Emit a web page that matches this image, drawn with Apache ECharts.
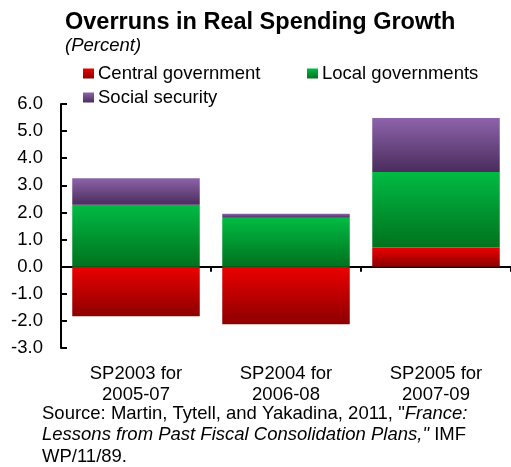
<!DOCTYPE html>
<html>
<head>
<meta charset="utf-8">
<script src="https://cdn.jsdelivr.net/npm/echarts@6/dist/echarts.min.js"></script>
<style>
  html, body { margin: 0; padding: 0; background: #fff; }
  #chart { width: 511px; height: 467px; }
</style>
</head>
<body>
<div id="chart"></div>
<script>
// Stability programme vintages and their overruns, percentage points
var categories = ['SP2003 for\n2005-07', 'SP2004 for\n2006-08', 'SP2005 for\n2007-09'];
var centralGov = [-1.83, -2.12, 0.71];
var localGovs = [2.28, 1.80, 2.78];
var socialSecurity = [0.98, 0.15, 1.99];
var yTicks = { min: -3, max: 6, interval: 1 };

var FONT = 'Liberation Sans, Arial, sans-serif';

function vgrad(top, bottom) {
  return new echarts.graphic.LinearGradient(0, 0, 0, 1, [
    { offset: 0, color: top },
    { offset: 1, color: bottom }
  ]);
}

var chart = echarts.init(document.getElementById('chart'), null, { renderer: 'canvas' });

var legendBase = {
  icon: 'rect', itemWidth: 11, itemHeight: 10, itemGap: 0,
  textStyle: { fontFamily: FONT, fontSize: 18.5, color: '#000', padding: [0, 0, 0, -1] }
};

chart.setOption({
  animation: false,
  backgroundColor: '#fff',
  title: {
    text: 'Overruns in Real Spending Growth',
    subtext: '(Percent)',
    left: 60, top: 6, itemGap: 1,
    textStyle: { fontFamily: FONT, fontSize: 23.5, fontWeight: 'bold', color: '#000' },
    subtextStyle: { fontFamily: FONT, fontSize: 18.5, fontStyle: 'italic', color: '#000' }
  },
  legend: [
    Object.assign({ data: ['Central government'], left: 78, top: 59 }, legendBase),
    Object.assign({ data: ['Local governments'], left: 302, top: 59 }, legendBase),
    Object.assign({ data: ['Social security'], left: 78, top: 83 }, legendBase)
  ],
  grid: { left: 61, right: 0, top: 104, bottom: 119, containLabel: false },
  xAxis: [
    {
      type: 'category', data: categories,
      axisLine: { onZero: true, lineStyle: { color: '#000', width: 2 } },
      axisTick: { show: true, length: 5, lineStyle: { color: '#000', width: 2 } },
      axisLabel: { show: false },
      splitLine: { show: false }
    },
    {
      type: 'category', data: categories, position: 'bottom', offset: 0,
      axisLine: { show: false }, axisTick: { show: false },
      axisLabel: { fontFamily: FONT, fontSize: 18.5, color: '#000', margin: 16, lineHeight: 20.5, interval: 0 },
      splitLine: { show: false }
    }
  ],
  yAxis: {
    type: 'value', min: yTicks.min, max: yTicks.max, interval: yTicks.interval,
    axisLine: { show: true, lineStyle: { color: '#000', width: 2 } },
    axisTick: { show: true, inside: true, length: 6, lineStyle: { color: '#000', width: 2 } },
    axisLabel: { fontFamily: FONT, fontSize: 18.5, color: '#000', margin: 18,
      formatter: function (v) { return v.toFixed(1); } },
    splitLine: { show: false }
  },
  series: [
    {
      name: 'Central government', type: 'bar', stack: 'total', data: centralGov,
      barWidth: '85%', xAxisIndex: 0,
      itemStyle: { color: vgrad('#ec0000', '#8c0000') }
    },
    {
      name: 'Local governments', type: 'bar', stack: 'total', data: localGovs,
      barWidth: '85%', xAxisIndex: 0,
      itemStyle: { color: vgrad('#00bb44', '#00721e') }
    },
    {
      name: 'Social security', type: 'bar', stack: 'total', data: socialSecurity,
      barWidth: '85%', xAxisIndex: 0,
      itemStyle: { color: vgrad('#8d63ab', '#4a2c5c') }
    }
  ],
  graphic: [
    {
      type: 'text', left: 42, top: 404,
      style: {
        text: '{n|Source: Martin, Tytell, and Yakadina, 2011, "}{i|France:}\n' +
              '{i|Lessons from Past Fiscal Consolidation Plans,"}{n| IMF}\n' +
              '{n|WP/11/89.}',
        rich: {
          n: { fontFamily: FONT, fontSize: 18.5, fill: '#000', lineHeight: 21.5 },
          i: { fontFamily: FONT, fontSize: 18.5, fontStyle: 'italic', fill: '#000', lineHeight: 21.5 }
        }
      }
    }
  ]
});
</script>
</body>
</html>
